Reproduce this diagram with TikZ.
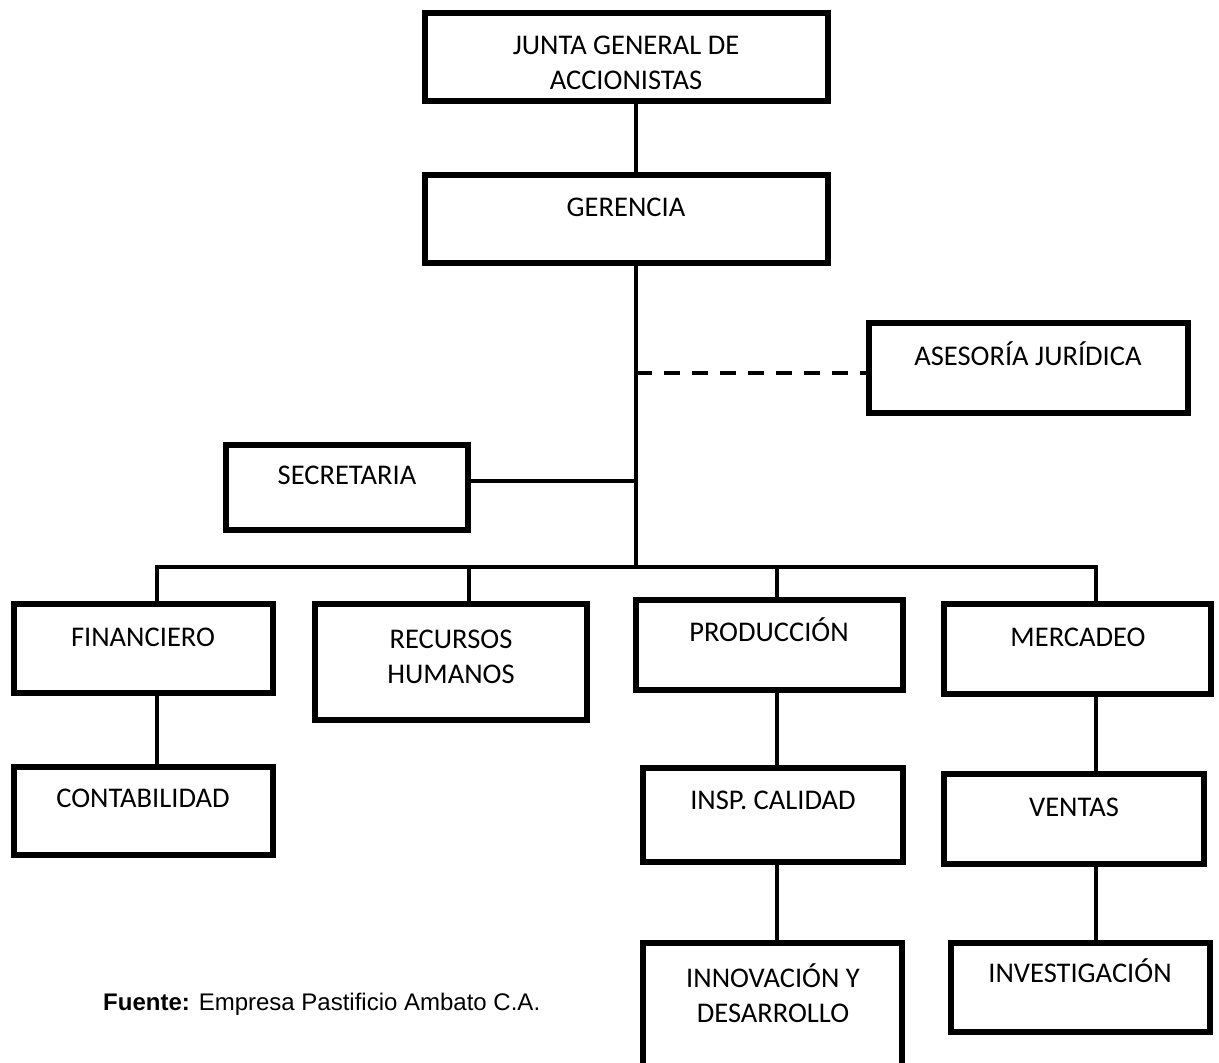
\documentclass[tikz,border=0pt]{standalone}
\usepackage{fontspec}
\setmainfont{Carlito}
\newfontfamily\sourcefont{Liberation Sans}

% \orgbox{name}{left}{right}{top}{bottom}: an empty framed box, edges given in px
\newcommand\orgbox[5]{%
  \node[box, minimum width=\dimexpr #3pt-#2pt\relax,
        minimum height=\dimexpr #5pt-#4pt\relax]
        (#1) at ({(#2+#3)/2},{(#4+#5)/2}) {};}

\begin{document}
\begin{tikzpicture}[x=1pt,y=-1pt,
  box/.style={draw, line width=5.5pt, inner sep=0pt, outer sep=0pt},
  lbl/.style={font=\fontsize{28.5}{35}\selectfont, inner sep=0pt, align=center},
  oneline/.style={lbl, text height=18.4pt, text depth=0pt},
  link/.style={line width=3.5pt, line join=miter},
  advisory/.style={line width=3.5pt, dash pattern=on 16pt off 12pt}]
\useasboundingbox (0,0) rectangle (1219,1063);

% boxes
\orgbox{jun}{425}{828}{13}{101}
\orgbox{ger}{425}{828}{175}{263}
\orgbox{ase}{869}{1188}{323}{413}
\orgbox{sec}{226}{468}{445}{530}
\orgbox{fin}{14}{273}{604}{693}
\orgbox{rrhh}{315}{587}{604}{720}
\orgbox{prod}{636}{903}{600}{690}
\orgbox{merc}{944}{1211}{604}{694}
\orgbox{cont}{14}{273}{767}{855}
\orgbox{insp}{643}{903}{768}{862}
\orgbox{vent}{944}{1204}{774}{864}
\orgbox{innov}{643}{902}{943}{1090}
\orgbox{inv}{951}{1210}{943}{1032}

% labels
\node[lbl]     (jun-t)   at (626,62.5) {JUNTA GENERAL DE\\ACCIONISTAS};
\node[oneline] (ger-t)   at (626,207)  {GERENCIA};
\node[oneline] (ase-t)   at (1028,356) {ASESORÍA JURÍDICA};
\node[oneline] (sec-t)   at (347,475)  {SECRETARIA};
\node[oneline] (fin-t)   at (143,637)  {FINANCIERO};
\node[lbl]     (rrhh-t)  at (451,657)  {RECURSOS\\HUMANOS};
\node[oneline] (prod-t)  at (769,632)  {PRODUCCIÓN};
\node[oneline] (merc-t)  at (1078,637) {MERCADEO};
\node[oneline] (cont-t)  at (143,798)  {CONTABILIDAD};
\node[oneline] (insp-t)  at (773,800)  {INSP. CALIDAD};
\node[oneline] (vent-t)  at (1074,807) {VENTAS};
\node[lbl]     (innov-t) at (773,993)  {INNOVACIÓN Y\\DESARROLLO};
\node[oneline] (inv-t)   at (1080,973) {INVESTIGACIÓN};

% connector positions
\coordinate (tx) at (636,0);
\coordinate (fx) at (157,0);
\coordinate (rx) at (469,0);
\coordinate (px) at (777,0);
\coordinate (mx) at (1096,0);
\coordinate (bus) at (0,567);
\coordinate (secy) at (0,481);
\coordinate (asey) at (0,373);

% connectors
\draw[link] (jun.south -| tx) -- (ger.north -| tx);
\draw[link] (ger.south -| tx) -- (bus -| tx);
\draw[link] (sec.east |- secy) -- (tx |- secy);
\draw[advisory] (tx |- asey) -- (ase.west |- asey);
\draw[link] (fin.north -| fx) -- (bus -| fx) -- (bus -| mx) -- (merc.north -| mx);
\draw[link] (bus -| rx) -- (rrhh.north -| rx);
\draw[link] (bus -| px) -- (prod.north -| px);
\draw[link] (fin.south -| fx) -- (cont.north -| fx);
\draw[link] (prod.south -| px) -- (insp.north -| px);
\draw[link] (insp.south -| px) -- (innov.north -| px);
\draw[link] (merc.south -| mx) -- (vent.north -| mx);
\draw[link] (vent.south -| mx) -- (inv.north -| mx);

% source note
\node[anchor=base west, inner sep=0pt, font=\sourcefont\fontsize{24}{28}\selectfont]
  (src) at (103,1010) {\textbf{Fuente:} Empresa Pastificio Ambato C.A.};
\end{tikzpicture}
\end{document}
